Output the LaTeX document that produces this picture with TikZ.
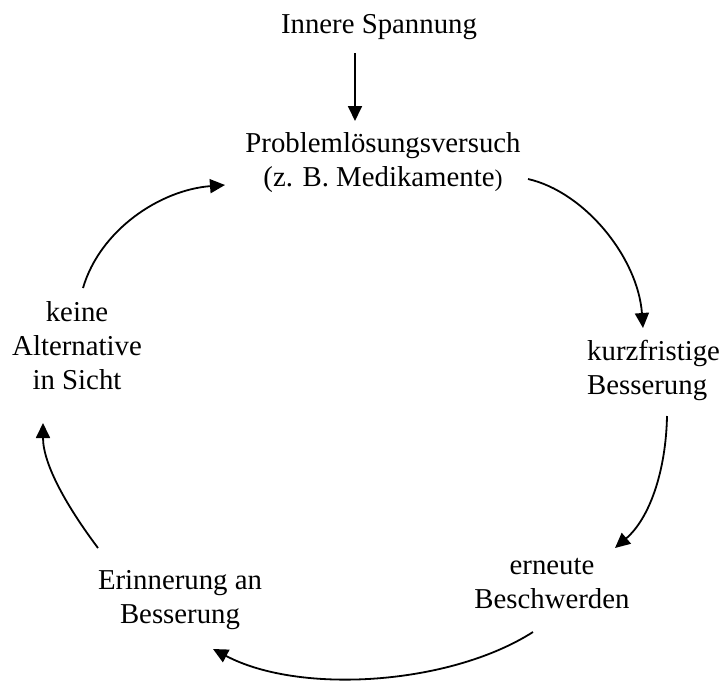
\documentclass[tikz,border=0pt]{standalone}
\usepackage{fontspec}
\setmainfont{Liberation Serif}
\usetikzlibrary{arrows.meta}

\begin{document}
\begin{tikzpicture}[
  x=1pt, y=-1pt,
  label/.style={inner sep=0pt, align=center,
    font=\fontsize{28.8}{34}\selectfont},
  flow/.style={line width=1.8pt,
    -{Triangle[length=15pt,width=14pt]}}
]
\useasboundingbox (0,0) rectangle (723,681);

% stations of the cycle
\node[label, anchor=base] (spannung) at (379,33) {Innere Spannung};
\node[label] (versuch) at (383,163)
  {Problemlösungsversuch\\(z. B. Medikamente{\fontsize{24}{24}\selectfont )}};
\node[label, align=left, anchor=west] (kurz) at (587,370)
  {kurzfristige\\Besserung};
\node[label] (erneut) at (552,584) {erneute\\Beschwerden};
\node[label] (erinnerung) at (180,600) {Erinnerung an\\Besserung};
\node[label] (keine) at (77,346) {keine\\Alternative\\in Sicht};

% arrow end points around the nodes
\coordinate (s0) at (355,53);
\coordinate (s1) at (355,121);
\coordinate (a0) at (528,179);
\coordinate (a1) at (643,328);
\coordinate (b0) at (667,416);
\coordinate (b1) at (615,548);
\coordinate (c0) at (533,632);
\coordinate (c1) at (213,649);
\coordinate (d0) at (98,548);
\coordinate (d1) at (43,423);
\coordinate (e0) at (83,288);
\coordinate (e1) at (225,185);

% connectors
\draw[flow] (s0) -- (s1);
\draw[flow] (a0) .. controls (585,192) and (638,258) .. (a1);
\draw[flow] (b0) .. controls (666,470) and (650,518) .. (b1);
\draw[flow] (c0) .. controls (450,685) and (300,695) .. (c1);
\draw[flow] (d0) .. controls (68,508) and (43,465) .. (d1);
\draw[flow] (e0) .. controls (100,230) and (160,190) .. (e1);
\end{tikzpicture}
\end{document}
